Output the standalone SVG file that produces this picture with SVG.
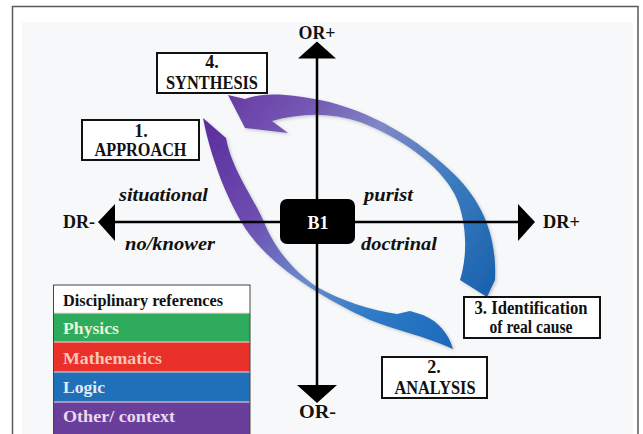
<svg xmlns="http://www.w3.org/2000/svg" width="643" height="434" viewBox="0 0 643 434">
  <style>
    .bold { font-family: "Liberation Serif", "Times New Roman", serif; font-weight: bold; fill: #111; }
    .lbl { font-family: "Liberation Serif", "Times New Roman", serif; font-weight: bold; font-style: italic; font-size: 19px; fill: #111; }
    .box { fill: #ffffff; stroke: #111; stroke-width: 2; }
    .axis { stroke: #000; stroke-width: 2.5; fill: none; }
    .head { fill: #000; }
    .leg { font-family: "Liberation Serif", "Times New Roman", serif; font-weight: bold; font-size: 17.5px; }
  </style>
  <defs>
    <linearGradient id="gradA" gradientUnits="userSpaceOnUse" x1="205" y1="120" x2="452" y2="348">
      <stop offset="0" stop-color="#5b2d9c"/>
      <stop offset="0.3" stop-color="#6d4db0"/>
      <stop offset="0.55" stop-color="#6a8ccb"/>
      <stop offset="0.75" stop-color="#2f7bc6"/>
      <stop offset="1" stop-color="#1d69ba"/>
    </linearGradient>
    <linearGradient id="gradB" gradientUnits="userSpaceOnUse" x1="488" y1="295" x2="232" y2="100">
      <stop offset="0" stop-color="#1b62ae"/>
      <stop offset="0.3" stop-color="#3a7bbf"/>
      <stop offset="0.58" stop-color="#8088c6"/>
      <stop offset="0.8" stop-color="#7458b4"/>
      <stop offset="1" stop-color="#6a3ea6"/>
    </linearGradient>
    <filter id="soft" x="-10%" y="-10%" width="120%" height="120%">
      <feDropShadow dx="1.5" dy="1.5" stdDeviation="1.5" flood-color="#555" flood-opacity="0.3"/>
    </filter>
  </defs>

  <!-- page and frame -->
  <rect x="0" y="0" width="643" height="434" fill="#ffffff"/>
  <rect x="22" y="22" width="611" height="412" fill="#f7f8fa"/>
  <path d="M12.5,434 V6.5 H638 V434" fill="none" stroke="#5a5a5a" stroke-width="1.5"/>

  <g id="connectors">
    <!-- cycle arrows -->
    <path id="arrow-approach-analysis" filter="url(#soft)" fill="url(#gradA)"
      d="M203,118 C210,155 228,205 250,235 C275,268 320,297 370,320 C395,330 425,336 453,349
         C449,335 440,322 423,315 L410,311 L397,314 C370,310 340,300 317,287
         C295,272 275,250 264,222 C252,195 232,170 226,138 Z"/>
    <path id="arrow-cause-synthesis" filter="url(#soft)" fill="url(#gradB)"
      d="M487,297 L495,280 C497,240 485,205 455,175 C420,140 370,110 320,100
         C295,95 265,91 245,99 L228,95 L245,128 L288,133 L272,121
         C300,113 330,112 360,122 C400,137 440,165 455,195 C467,220 468,255 460,280 Z"/>
    <!-- axes -->
    <line class="axis" x1="317" y1="57" x2="317" y2="387"/>
    <line class="axis" x1="113" y1="222" x2="520" y2="222"/>
    <polygon class="head" points="317,41.5 298,58.5 336,58.5"/>
    <polygon class="head" points="297,385 337,385 317,403"/>
    <polygon class="head" points="98,222 115,204 115,241"/>
    <polygon class="head" points="535,222 518,204 518,241"/>
  </g>

  <!-- axis end labels -->
  <g id="axis-labels" class="bold" font-size="18">
    <text x="317" y="39" text-anchor="middle" textLength="37" lengthAdjust="spacingAndGlyphs">OR+</text>
    <text x="317.5" y="418" text-anchor="middle" textLength="37" lengthAdjust="spacingAndGlyphs">OR-</text>
    <text x="63" y="228" textLength="32" lengthAdjust="spacingAndGlyphs">DR-</text>
    <text x="543" y="228" textLength="37" lengthAdjust="spacingAndGlyphs">DR+</text>
  </g>

  <!-- quadrant labels -->
  <g id="quadrant-labels">
    <text class="lbl" x="119" y="201" textLength="89" lengthAdjust="spacingAndGlyphs">situational</text>
    <text class="lbl" x="125" y="250" textLength="90" lengthAdjust="spacingAndGlyphs">no/knower</text>
    <text class="lbl" x="364" y="201" textLength="49" lengthAdjust="spacingAndGlyphs">purist</text>
    <text class="lbl" x="361" y="250" textLength="76" lengthAdjust="spacingAndGlyphs">doctrinal</text>
  </g>

  <g id="node-b1">
    <rect x="280" y="199" width="75" height="45" rx="7" fill="#000"/>
    <text x="318" y="229" text-anchor="middle" font-family="Liberation Serif, serif" font-weight="bold" font-size="18" fill="#fff">B1</text>
  </g>

  <g id="node-synthesis">
    <rect class="box" x="157" y="53" width="110" height="40"/>
    <text class="bold" font-size="18" x="212" y="68" text-anchor="middle">4.</text>
    <text class="bold" font-size="18" x="212" y="89" text-anchor="middle" textLength="92" lengthAdjust="spacingAndGlyphs">SYNTHESIS</text>
  </g>

  <g id="node-approach">
    <rect class="box" x="82" y="120" width="117" height="40"/>
    <text class="bold" font-size="18" x="141" y="137" text-anchor="middle">1.</text>
    <text class="bold" font-size="18" x="140.5" y="156" text-anchor="middle" textLength="92" lengthAdjust="spacingAndGlyphs">APPROACH</text>
  </g>

  <g id="node-identification">
    <rect class="box" x="464" y="297" width="136" height="41"/>
    <text class="bold" font-size="18" x="531" y="314" text-anchor="middle" textLength="113" lengthAdjust="spacingAndGlyphs">3. Identification</text>
    <text class="bold" font-size="18" x="531" y="333" text-anchor="middle" textLength="83" lengthAdjust="spacingAndGlyphs">of real cause</text>
  </g>

  <g id="node-analysis">
    <rect class="box" x="382" y="357" width="105" height="41"/>
    <text class="bold" font-size="18" x="434" y="373" text-anchor="middle">2.</text>
    <text class="bold" font-size="18" x="435" y="394" text-anchor="middle" textLength="81" lengthAdjust="spacingAndGlyphs">ANALYSIS</text>
  </g>

  <g id="legend">
    <rect x="53.5" y="285" width="196.5" height="28" fill="#ffffff"/>
    <rect x="53.5" y="313" width="196.5" height="29" fill="#2eab5c"/>
    <rect x="53.5" y="342" width="196.5" height="30" fill="#e9302b"/>
    <rect x="53.5" y="372" width="196.5" height="30" fill="#1f70b8"/>
    <rect x="53.5" y="402" width="196.5" height="40" fill="#6a3f9c"/>
    <g stroke="#f2ddd6" stroke-width="1">
      <line x1="54" y1="313" x2="250" y2="313"/>
      <line x1="54" y1="342" x2="250" y2="342"/>
      <line x1="54" y1="372" x2="250" y2="372"/>
      <line x1="54" y1="402" x2="250" y2="402"/>
    </g>
    <rect x="53.5" y="285" width="196.5" height="160" fill="none" stroke="#444" stroke-width="1"/>
    <text class="leg" x="63" y="306" fill="#111" textLength="160" lengthAdjust="spacingAndGlyphs">Disciplinary references</text>
    <text class="leg" x="63" y="334" fill="#eaf6d6" textLength="56" lengthAdjust="spacingAndGlyphs">Physics</text>
    <text class="leg" x="63" y="364" fill="#f7c8b6" textLength="99" lengthAdjust="spacingAndGlyphs">Mathematics</text>
    <text class="leg" x="63" y="393" fill="#e2eaf4" textLength="42" lengthAdjust="spacingAndGlyphs">Logic</text>
    <text class="leg" x="63" y="422" fill="#ead9ef" textLength="112" lengthAdjust="spacingAndGlyphs">Other/ context</text>
  </g>
</svg>
